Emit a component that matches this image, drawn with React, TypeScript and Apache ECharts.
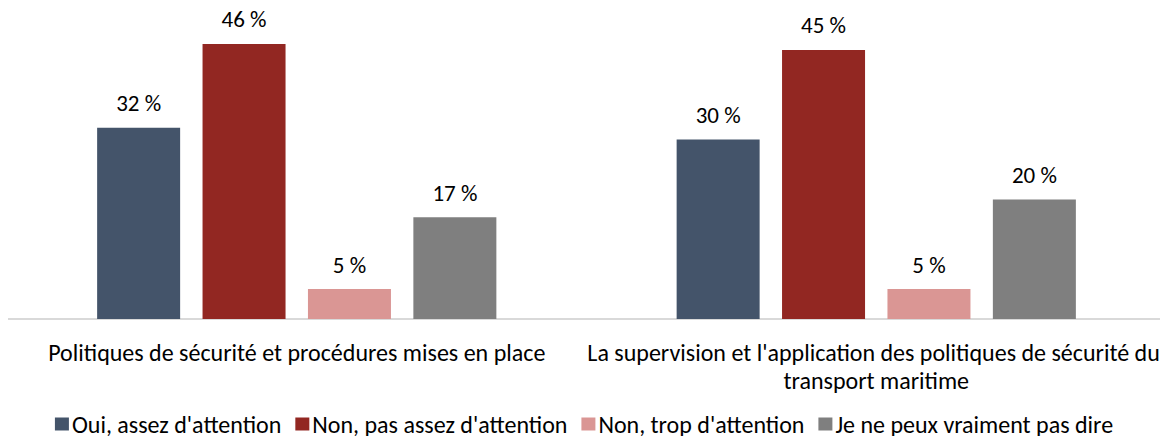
import React, { useEffect, useRef } from "react";
import * as echarts from "echarts";

const categories = [
  "Politiques de sécurité et procédures mises en place",
  "La supervision et l'application des politiques de sécurité du transport maritime",
];
const seriesNames = [
  "Oui, assez d'attention",
  "Non, pas assez d'attention",
  "Non, trop d'attention",
  "Je ne peux vraiment pas dire",
];
const ouiAssez = [32, 30];
const nonPasAssez = [46, 45];
const nonTrop = [5, 5];
const neSaisPas = [17, 20];
const colors = ["#44546A", "#922722", "#DA9694", "#7F7F7F"];

const FONT = "Carlito, Lato, 'Open Sans', sans-serif";

export default function App() {
  const ref = useRef<HTMLDivElement>(null);
  useEffect(() => {
    if (!ref.current) return;
    const chart = echarts.init(ref.current, undefined, { renderer: "svg" });
    const values = [ouiAssez, nonPasAssez, nonTrop, neSaisPas];
    chart.setOption({
      animation: false,
      textStyle: { fontFamily: FONT },
      grid: {
        left: 7,
        right: 2,
        top: 20,
        bottom: 125,
        containLabel: false,
        outerBoundsMode: "none",
      },
      legend: {
        top: 411,
        left: "center",
        padding: 0,
        itemWidth: 14,
        itemHeight: 13,
        itemGap: 14,
        icon: "rect",
        textStyle: {
          fontSize: 24,
          lineHeight: 26,
          color: "#000",
          fontFamily: FONT,
          padding: [0, 0, 0, -2],
        },
        data: seriesNames,
      },
      xAxis: {
        type: "category",
        data: categories,
        axisLine: { lineStyle: { color: "#D9D9D9", width: 2 } },
        axisTick: { show: false },
        axisLabel: {
          fontSize: 24,
          color: "#000",
          margin: 19,
          width: 612,
          overflow: "break",
          lineHeight: 28,
          interval: 0,
          fontFamily: FONT,
        },
      },
      yAxis: {
        type: "value",
        min: 0,
        max: 50,
        show: false,
        splitLine: { show: false },
      },
      series: values.map((v, i) => ({
        name: seriesNames[i],
        type: "bar",
        data: v,
        barWidth: 83,
        barGap: "27%",
        itemStyle: { color: colors[i] },
        label: {
          show: true,
          position: "top",
          distance: 13,
          formatter: "{c} %",
          fontSize: 23,
          color: "#000",
          fontFamily: FONT,
        },
      })),
    });
    return () => chart.dispose();
  }, []);
  return <div ref={ref} style={{ width: 1168, height: 444, margin: -8 }} />;
}
